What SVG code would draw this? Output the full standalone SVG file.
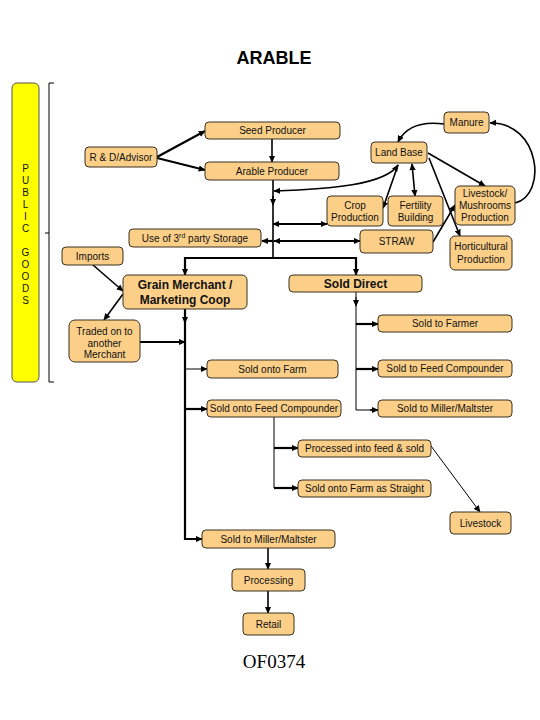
<svg xmlns="http://www.w3.org/2000/svg" width="540" height="720" viewBox="0 0 540 720">
<style>
.n rect{fill:#FBCF88;stroke:#3a3020;stroke-width:1}
.n text{font-family:"Liberation Sans",Arial,sans-serif;font-size:10px;fill:#111;text-anchor:middle}
.n text.b{font-size:12px;font-weight:bold}
.c path,.c line{fill:none;stroke:#000;stroke-width:1.6}
.c .t{stroke-width:1}
.c .k{stroke-width:2.2}
</style>
<defs>
<marker id="a" viewBox="0 0 10 10" refX="9" refY="5" markerWidth="7" markerHeight="7" markerUnits="userSpaceOnUse" orient="auto-start-reverse">
<path d="M0,0.5 L10,5 L0,9.5 z" fill="#000"/>
</marker>
</defs>
<rect width="540" height="720" fill="#fff"/>
<text x="274" y="64" font-family="Liberation Sans,Arial,sans-serif" font-size="18" font-weight="bold" text-anchor="middle">ARABLE</text>

<g id="public-goods">
<rect x="12" y="83" width="27" height="299" rx="5" fill="#FFFF00" stroke="#555" stroke-width="1"/>
<g font-family="Liberation Sans,Arial,sans-serif" font-size="10" text-anchor="middle" fill="#111">
<text x="25.5" y="172">P</text><text x="25.5" y="184">U</text><text x="25.5" y="196">B</text><text x="25.5" y="208">L</text><text x="25.5" y="220">I</text><text x="25.5" y="232">C</text>
<text x="25.5" y="256">G</text><text x="25.5" y="268">O</text><text x="25.5" y="280">O</text><text x="25.5" y="292">D</text><text x="25.5" y="304">S</text>
</g>
<path d="M54,83 H49 V382 H54 M49,233 H45" fill="none" stroke="#000" stroke-width="1"/>
</g>

<g class="c" id="connectors">
<line x1="157" y1="157" x2="205" y2="131" class="k" marker-end="url(#a)"/>
<line x1="157" y1="158" x2="205" y2="170" class="k" marker-end="url(#a)"/>
<line x1="272" y1="139" x2="272" y2="162" marker-end="url(#a)"/>
<path d="M273,180 V258"/>
<line x1="273" y1="196" x2="273" y2="205" marker-end="url(#a)"/>
<path d="M185,275 V258 H356 V275" class="k"/>
<line x1="185" y1="266" x2="185" y2="275" marker-end="url(#a)"/>
<line x1="356" y1="266" x2="356" y2="275" marker-end="url(#a)"/>
<path d="M398,165 C385,185 330,189 274,191" marker-start="url(#a)" marker-end="url(#a)"/>
<line x1="398" y1="165" x2="383" y2="208" marker-end="url(#a)"/>
<line x1="412" y1="164" x2="415" y2="196" marker-start="url(#a)" marker-end="url(#a)"/>
<line x1="428" y1="153" x2="485" y2="186" marker-end="url(#a)"/>
<line x1="429" y1="158" x2="460" y2="236" marker-end="url(#a)"/>
<path d="M515,203 C548,195 540,122 490,123" marker-end="url(#a)"/>
<path d="M444,124 C420,121 405,128 398,142" marker-end="url(#a)"/>
<line x1="433" y1="242" x2="455" y2="205" marker-end="url(#a)"/>
<line x1="273" y1="224" x2="327" y2="224" class="k" marker-start="url(#a)" marker-end="url(#a)"/>
<line x1="274" y1="241" x2="360" y2="241" class="k" marker-start="url(#a)" marker-end="url(#a)"/>
<line x1="273" y1="241" x2="262" y2="241" class="k" marker-end="url(#a)"/>
<line x1="93" y1="265" x2="123" y2="291" marker-end="url(#a)"/>
<line x1="123" y1="294" x2="104" y2="320" marker-end="url(#a)"/>
<path d="M185,309 V539 H202" class="k"/>
<line x1="185" y1="314" x2="185" y2="323" marker-end="url(#a)"/>
<line x1="140" y1="342" x2="185" y2="342" class="k" marker-end="url(#a)"/>
<line x1="185" y1="369" x2="207" y2="369" class="t" marker-end="url(#a)"/>
<line x1="185" y1="409" x2="207" y2="409" class="k" marker-end="url(#a)"/>
<line x1="195" y1="539" x2="202" y2="539" marker-end="url(#a)"/>
<path d="M356,292 V410 H378" class="t"/>
<line x1="356" y1="297" x2="356" y2="306" class="t" marker-end="url(#a)"/>
<line x1="356" y1="324" x2="378" y2="324" class="k" marker-end="url(#a)"/>
<line x1="356" y1="369" x2="378" y2="369" class="k" marker-end="url(#a)"/>
<line x1="370" y1="410" x2="378" y2="410" marker-end="url(#a)"/>
<path d="M274,417 V488" class="t"/>
<line x1="274" y1="448" x2="298" y2="448" class="k" marker-end="url(#a)"/>
<line x1="274" y1="488" x2="298" y2="488" class="k" marker-end="url(#a)"/>
<line x1="431" y1="446" x2="480" y2="512" class="t" marker-end="url(#a)"/>
<line x1="268" y1="548" x2="268" y2="569" marker-end="url(#a)"/>
<line x1="268" y1="591" x2="268" y2="613" marker-end="url(#a)"/>
</g>

<g class="n" id="manure"><rect x="444" y="112" width="45" height="21" rx="4"/><text x="466.5" y="126">Manure</text></g>
<g class="n" id="seed-producer"><rect x="205" y="122" width="135" height="17" rx="4"/><text x="272.5" y="134">Seed Producer</text></g>
<g class="n" id="rd-advisor"><rect x="85" y="147" width="72" height="20" rx="4"/><text x="121" y="161">R &amp; D/Advisor</text></g>
<g class="n" id="land-base"><rect x="371" y="142" width="56" height="21" rx="4"/><text x="399" y="156">Land Base</text></g>
<g class="n" id="arable-producer"><rect x="205" y="162" width="134" height="18" rx="4"/><text x="272" y="175">Arable Producer</text></g>
<g class="n" id="crop-production"><rect x="327" y="196" width="56" height="30" rx="4"/><text x="355" y="209">Crop</text><text x="355" y="221">Production</text></g>
<g class="n" id="fertility-building"><rect x="388" y="196" width="55" height="30" rx="4"/><text x="415.5" y="209">Fertility</text><text x="415.5" y="221">Building</text></g>
<g class="n" id="livestock-mushrooms"><rect x="455" y="186" width="60" height="39" rx="5"/><text x="485" y="197">Livestock/</text><text x="485" y="209">Mushrooms</text><text x="485" y="221">Production</text></g>
<g class="n" id="storage"><rect x="129" y="229" width="132" height="18" rx="4"/><text x="195" y="242">Use of 3<tspan font-size="7" dy="-4">rd</tspan><tspan dy="4"> party Storage</tspan></text></g>
<g class="n" id="straw"><rect x="360" y="230" width="73" height="23" rx="4"/><text x="396.5" y="245">STRAW</text></g>
<g class="n" id="horticultural"><rect x="450" y="236" width="62" height="34" rx="5"/><text x="481" y="250">Horticultural</text><text x="481" y="263">Production</text></g>
<g class="n" id="imports"><rect x="62" y="247" width="61" height="18" rx="4"/><text x="92.5" y="260">Imports</text></g>
<g class="n" id="grain-merchant"><rect x="123" y="275" width="124" height="34" rx="5"/><text class="b" x="185" y="289">Grain Merchant /</text><text class="b" x="185" y="304">Marketing Coop</text></g>
<g class="n" id="sold-direct"><rect x="289" y="275" width="133" height="17" rx="4"/><text class="b" x="355.5" y="288">Sold Direct</text></g>
<g class="n" id="traded-on"><rect x="69" y="320" width="71" height="42" rx="6"/><text x="104.5" y="335">Traded on to</text><text x="104.5" y="347">another</text><text x="104.5" y="358">Merchant</text></g>
<g class="n" id="sold-to-farmer"><rect x="378" y="315" width="134" height="17" rx="4"/><text x="445" y="327">Sold to Farmer</text></g>
<g class="n" id="sold-onto-farm"><rect x="207" y="360" width="131" height="18" rx="4"/><text x="272.5" y="373">Sold onto Farm</text></g>
<g class="n" id="sold-to-feed-compounder"><rect x="378" y="360" width="134" height="17" rx="4"/><text x="445" y="372">Sold to Feed Compounder</text></g>
<g class="n" id="sold-onto-feed-compounder"><rect x="207" y="400" width="134" height="17" rx="4"/><text x="274" y="412">Sold onto Feed Compounder</text></g>
<g class="n" id="sold-to-miller-direct"><rect x="378" y="400" width="134" height="17" rx="4"/><text x="445" y="412">Sold to Miller/Maltster</text></g>
<g class="n" id="processed-feed"><rect x="298" y="440" width="133" height="17" rx="4"/><text x="364.5" y="452">Processed into feed &amp; sold</text></g>
<g class="n" id="sold-straight"><rect x="298" y="480" width="133" height="17" rx="4"/><text x="364.5" y="492">Sold onto Farm as Straight</text></g>
<g class="n" id="livestock"><rect x="450" y="512" width="61" height="22" rx="4"/><text x="480.5" y="527">Livestock</text></g>
<g class="n" id="sold-to-miller"><rect x="202" y="530" width="133" height="18" rx="4"/><text x="268.5" y="543">Sold to Miller/Maltster</text></g>
<g class="n" id="processing"><rect x="232" y="569" width="73" height="22" rx="4"/><text x="268.5" y="584">Processing</text></g>
<g class="n" id="retail"><rect x="243" y="613" width="51" height="22" rx="4"/><text x="268.5" y="628">Retail</text></g>

<text x="274" y="668" font-family="Liberation Serif,Times New Roman,serif" font-size="19" text-anchor="middle">OF0374</text>
</svg>
